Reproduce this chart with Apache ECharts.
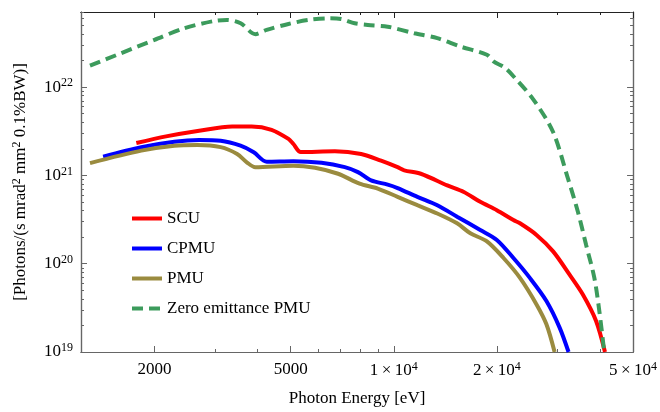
<!DOCTYPE html>
<html>
<head>
<meta charset="utf-8">
<script src="https://cdn.jsdelivr.net/npm/echarts@6/dist/echarts.min.js"></script>
<style>
  html, body { margin: 0; padding: 0; background: #fff; }
  #chart { width: 660px; height: 412px; }
</style>
</head>
<body>
<div id="chart"></div>
<script>
// Photon energy [eV] and brightness for each source
const scuEnergy = [1770, 2162, 2701, 3373, 3847, 4395, 4925, 5091, 5350, 6730, 8030, 9180, 10260, 10730, 11990, 14330, 16020, 17890, 20000, 22360, 23370, 26120, 29200, 32620, 35670, 38990, 41400];
const scuFlux   = [2.33e21, 2.77e21, 3.21e21, 3.59e21, 3.59e21, 3.29e21, 2.59e21, 2.27e21, 1.84e21, 1.88e21, 1.75e21, 1.47e21, 1.24e21, 1.14e21, 1.045e21, 7.72e20, 6.50e20, 5.02e20, 4.04e20, 3.12e20, 2.87e20, 2.12e20, 1.38e20, 7.52e19, 4.48e19, 2.25e19, 1.0e19];

const cpmuEnergy = [1416, 1830, 2286, 2701, 3121, 3568, 3899, 4256, 5091, 6151, 7192, 7859, 8586, 9598, 10260, 11720, 13400, 15310, 17890, 20000, 22360, 24970, 27920, 30510, 32400];
const cpmuFlux   = [1.63e21, 2.09e21, 2.41e21, 2.52e21, 2.47e21, 2.17e21, 1.83e21, 1.43e21, 1.45e21, 1.39e21, 1.24e21, 1.09e21, 8.79e20, 7.87e20, 7.2e20, 5.72e20, 4.6e20, 3.41e20, 2.41e20, 1.86e20, 1.16e20, 6.91e19, 3.78e19, 1.89e19, 1.0e19];

const pmuEnergy = [1296, 1830, 2286, 2671, 3121, 3487, 3721, 3943, 5091, 5886, 6876, 7946, 8978, 10260, 11720, 13400, 15310, 16740, 18710, 20920, 23370, 26120, 27920, 29500];
const pmuFlux   = [1.38e21, 1.91e21, 2.17e21, 2.21e21, 2.09e21, 1.75e21, 1.41e21, 1.24e21, 1.29e21, 1.22e21, 1.045e21, 8.07e20, 7.10e20, 5.72e20, 4.60e20, 3.71e20, 2.87e20, 2.21e20, 1.79e20, 1.16e20, 6.91e19, 3.46e19, 2.06e19, 1.0e19];

const zeroEnergy = [1296, 1583, 2000, 2443, 2985, 3256, 3571, 3943, 4252, 4925, 5628, 6432, 7016, 7687, 8399, 9598, 11470, 13400, 15620, 18710, 19560, 21100, 22360, 25550, 29200, 32280, 34500, 36470, 38540, 39850, 41200];
const zeroFlux   = [1.75e22, 2.39e22, 3.43e22, 4.65e22, 5.61e22, 5.77e22, 5.29e22, 3.98e22, 4.45e22, 5.2e22, 5.77e22, 6.02e22, 5.92e22, 5.29e22, 5.06e22, 4.84e22, 4.08e22, 3.59e22, 2.89e22, 2.33e22, 1.96e22, 1.66e22, 1.33e22, 7.28e21, 3.10e21, 9.18e20, 3.88e20, 1.63e20, 6.91e19, 2.92e19, 1.0e19];

const seriesNames = ['SCU', 'CPMU', 'PMU', 'Zero emittance PMU'];

// Axis ticks
const xMajorTicks = [2000, 5000, 10000, 20000, 50000];
const xMinorTicks = [3000, 4000, 6000, 7000, 8000, 9000, 30000, 40000];
const yMajorTicks = [1e19, 1e20, 1e21, 1e22];
const yMantissas = [2, 3, 4, 5, 6, 7, 8, 9];
const yDecades = [19, 20, 21, 22];
const yMinorTicks = [];
yDecades.forEach(d => yMantissas.forEach(m => yMinorTicks.push(m * Math.pow(10, d))));

const X_MIN = 1220, X_MAX = 50000;
const Y_MIN = 1e19, Y_MAX = 7.1e22;

const FONT = '"Liberation Serif", "DejaVu Serif", serif';
const AXIS_GRAY = '#666';
const rich = {
  sup: { fontSize: 12, fontFamily: FONT, color: '#000', padding: [0, 0, 8, 0] }
};

function pairs(xs, ys) { return xs.map((x, i) => [x, ys[i]]); }

function fmtEnergy(v) {
  if (v < 10000) return String(v);
  const e = Math.floor(Math.log10(v) + 1e-9);
  const m = Math.round(v / Math.pow(10, e));
  return m + '\u2009×\u200910{sup|' + e + '}';
}
function fmtFlux(v) {
  return '10{sup|' + Math.round(Math.log10(v)) + '}';
}

function xAxisDef(position, ticks, len, withLabels, lineColor) {
  return {
    type: 'log', position: position, min: X_MIN, max: X_MAX,
    axisLine: { show: true, onZero: false, lineStyle: { color: lineColor, width: 1.2 } },
    axisTick: { show: true, inside: true, length: len, customValues: ticks, lineStyle: { color: lineColor, width: 1 } },
    axisLabel: withLabels
      ? { show: true, customValues: xMajorTicks, formatter: fmtEnergy, margin: 9, color: '#000', fontSize: 17, fontFamily: FONT, rich: rich }
      : { show: false },
    splitLine: { show: false }, minorTick: { show: false }
  };
}
function yAxisDef(position, ticks, len, withLabels, lineColor) {
  return {
    type: 'log', position: position, min: Y_MIN, max: Y_MAX,
    axisLine: { show: true, onZero: false, lineStyle: { color: lineColor, width: 1.2 } },
    axisTick: { show: true, inside: true, length: len, customValues: ticks, lineStyle: { color: lineColor, width: 1 } },
    axisLabel: withLabels
      ? { show: true, customValues: yMajorTicks, formatter: fmtFlux, margin: 8, color: '#000', fontSize: 17, fontFamily: FONT, rich: rich }
      : { show: false },
    splitLine: { show: false }, minorTick: { show: false }
  };
}

const xAxes = [
  xAxisDef('bottom', xMajorTicks, 6, true, AXIS_GRAY),
  xAxisDef('bottom', xMinorTicks, 3, false, AXIS_GRAY),
  xAxisDef('top', xMajorTicks, 6, false, '#222'),
  xAxisDef('top', xMinorTicks, 3, false, '#222')
];
xAxes[0].name = 'Photon Energy [eV]';
xAxes[0].nameLocation = 'middle';
xAxes[0].nameGap = 38;
xAxes[0].nameTextStyle = { color: '#000', fontSize: 17, fontFamily: FONT };

const yAxes = [
  yAxisDef('left', yMajorTicks, 6, true, AXIS_GRAY),
  yAxisDef('left', yMinorTicks, 3, false, AXIS_GRAY),
  yAxisDef('right', yMajorTicks, 6, false, AXIS_GRAY),
  yAxisDef('right', yMinorTicks, 3, false, AXIS_GRAY)
];
yAxes[0].name = '[Photons/(s mrad{sup|2} mm{sup|2} 0.1%BW)]';
yAxes[0].nameLocation = 'middle';
yAxes[0].nameGap = 50;
yAxes[0].nameTextStyle = { color: '#000', fontSize: 17, fontFamily: FONT, rich: rich };

function lineSeries(name, xs, ys, color, type) {
  return {
    name: name, type: 'line', xAxisIndex: 0, yAxisIndex: 0,
    data: pairs(xs, ys), showSymbol: false, symbol: 'none', smooth: 0.3,
    clip: true, animation: false,
    lineStyle: { color: color, width: 4, type: type || 'solid' },
    itemStyle: { color: color }
  };
}

const chart = echarts.init(document.getElementById('chart'), null, { renderer: 'canvas' });
chart.setOption({
  backgroundColor: '#fff',
  animation: false,
  grid: { left: 81, right: 23, top: 12, bottom: 57, containLabel: false },
  legend: {
    orient: 'vertical', left: 125, top: 205,
    itemWidth: 30, itemHeight: 14, itemGap: 13,
    itemStyle: { opacity: 0 },
    lineStyle: { width: 4 },
    textStyle: { color: '#000', fontSize: 17, fontFamily: FONT },
    data: seriesNames
  },
  xAxis: xAxes,
  yAxis: yAxes,
  series: [
    lineSeries(seriesNames[0], scuEnergy, scuFlux, '#ff0000'),
    lineSeries(seriesNames[1], cpmuEnergy, cpmuFlux, '#0000ff'),
    lineSeries(seriesNames[2], pmuEnergy, pmuFlux, '#9a8b3f'),
    lineSeries(seriesNames[3], zeroEnergy, zeroFlux, '#3c9b5c', [11, 6])
  ]
});
</script>
</body>
</html>
